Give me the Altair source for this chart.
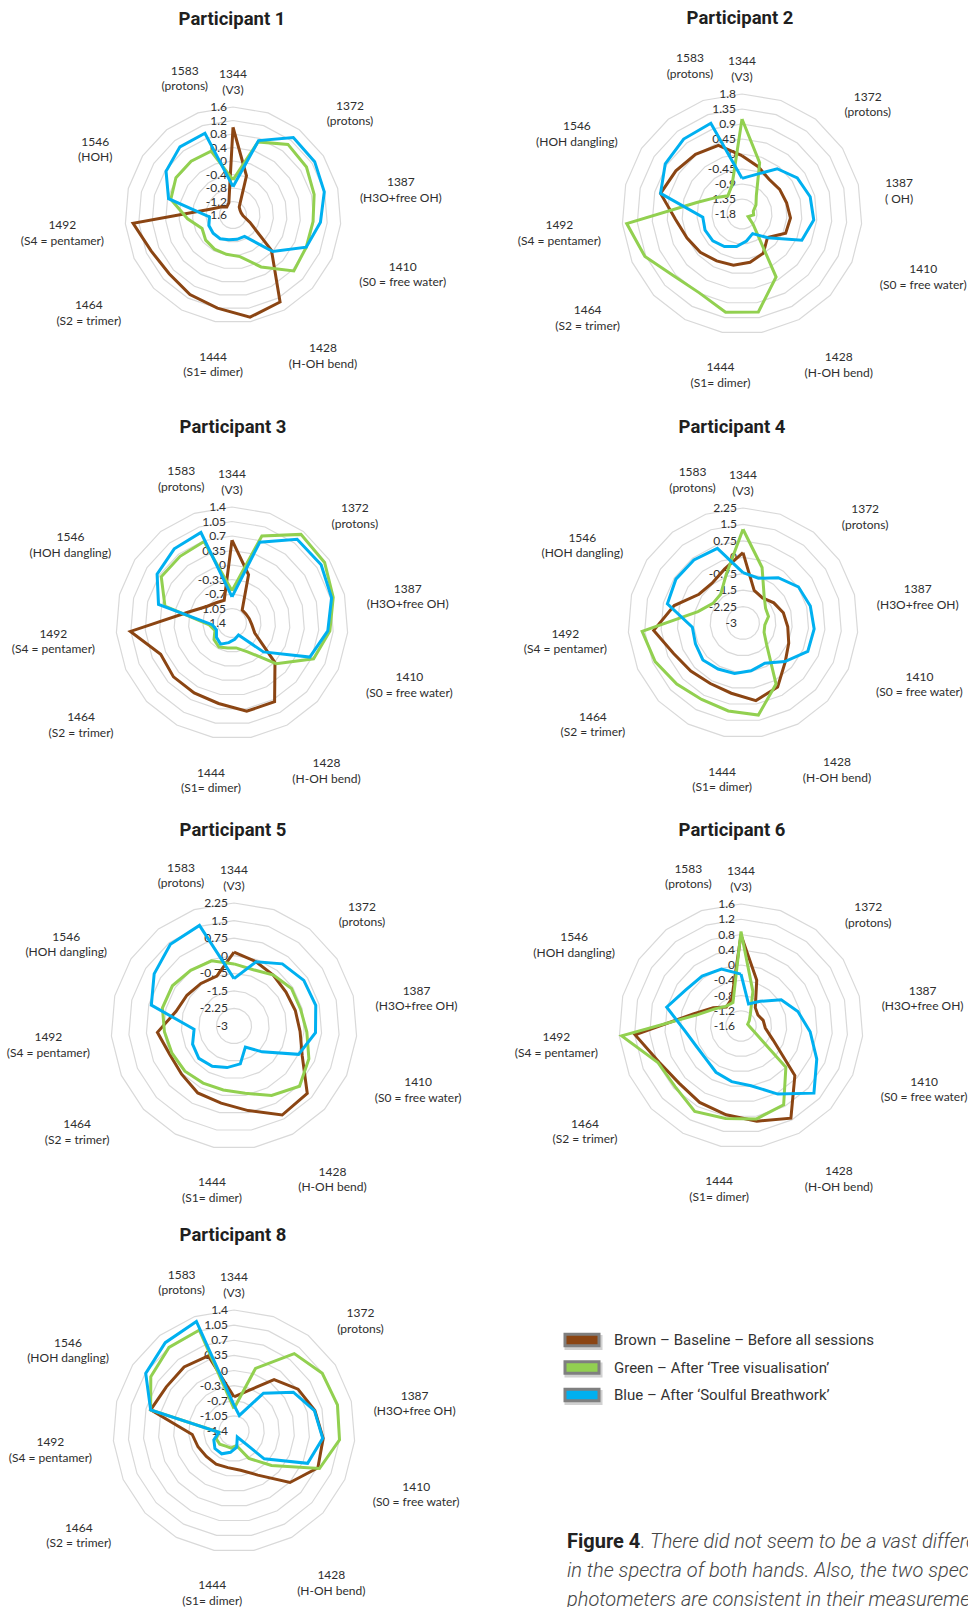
import altair as alt
import pandas as pd

# ---------------------------------------------------------------------------
# Aquagram-style radar charts: NIR water spectral pattern per participant
# ---------------------------------------------------------------------------
N_SPOKES = 19

PARTICIPANTS = ["Participant 1", "Participant 2", "Participant 3", "Participant 4",
                "Participant 5", "Participant 6", "Participant 8"]

SERIES = ["Brown \u2013 Baseline \u2013 Before all sessions",
          "Green \u2013 After \u2018Tree visualisation\u2019",
          "Blue \u2013 After \u2018Soulful Breathwork\u2019"]
SERIES_COLORS = ["#8B4513", "#92D050", "#00B0F0"]

# radial axis labels, centre -> outer ring
P1_TICKS = ["-1.6", "-1.2", "-0.8", "-0.4", "0", "0.4", "0.8", "1.2", "1.6"]
P2_TICKS = ["-1.8", "-1.35", "-0.9", "-0.45", "0", "0.45", "0.9", "1.35", "1.8"]
P3_TICKS = ["-1.4", "-1.05", "-0.7", "-0.35", "0", "0.35", "0.7", "1.05", "1.4"]
P4_TICKS = ["-3", "-2.25", "-1.5", "-0.75", "0", "0.75", "1.5", "2.25"]
P5_TICKS = ["-3", "-2.25", "-1.5", "-0.75", "0", "0.75", "1.5", "2.25"]
P6_TICKS = ["-1.6", "-1.2", "-0.8", "-0.4", "0", "0.4", "0.8", "1.2", "1.6"]
P8_TICKS = ["-1.4", "-1.05", "-0.7", "-0.35", "0", "0.35", "0.7", "1.05", "1.4"]

# band labels around each radar
WAVELENGTHS = ["1344", "1583", "1372", "1387", "1410", "1428", "1444", "1464", "1492", "1546"]
BAND_NAMES = ["(V3)", "(protons)", "(protons)", "(H3O+free OH)", "(S0 = free water)",
              "(H-OH bend)", "(S1= dimer)", "(S2 = trimer)", "(S4 = pentamer)", "(HOH dangling)"]
P1_BAND_NAMES = ["(V3)", "(protons)", "(protons)", "(H3O+free OH)", "(S0 = free water)",
                 "(H-OH bend)", "(S1= dimer)", "(S2 = trimer)", "(S4 = pentamer)", "(HOH)"]
P2_BAND_NAMES = ["(V3)", "(protons)", "(protons)", "( OH)", "(S0 = free water)",
                 "(H-OH bend)", "(S1= dimer)", "(S2 = trimer)", "(S4 = pentamer)", "(HOH dangling)"]

# spoke values, spoke 0 at the top, clockwise
P1_BROWN = [1.0, -0.37, -1.3, -1.35, -1.35, -1.3, -1.05, -0.05, 1.33, 1.47,
            1.2, 1.08, 0.97, 1.05, 1.37, -0.9, -1.17, -1.3, -1.22]
P1_GREEN = [-0.56, 0.69, 1.05, 1.0, 0.88, 0.78, 0.77, 0.85, 0.15, -0.35,
            -0.42, -0.45, -0.5, -0.6, -0.25, 0.3, 0.42, 0.42, 0.4]
P1_BLUE = [-0.76, 0.73, 1.31, 1.29, 1.19, 1.0, 0.77, 0.0, -0.88, -0.87,
           -0.86, -0.8, -0.8, -0.82, -0.9, 0.37, 0.77, 0.96, 0.96]

P2_BROWN = [-0.05, -0.3, -0.48, -0.45, -0.42, -0.34, -0.37, -0.76, -0.46, -0.33,
            -0.24, -0.2, -0.1, 0.0, 0.2, 0.72, 0.57, 0.47, 0.38]
P2_GREEN = [1.05, -0.17, -1.1, -1.3, -1.45, -1.45, -1.6, -1.35, 0.35, 1.18,
            1.19, 0.89, 0.96, 1.38, 1.67, -0.4, -0.89, -1.11, -0.88]
P2_BLUE = [-0.73, -0.55, -0.08, 0.18, 0.31, 0.36, 0.16, -0.75, -1.13, -0.98,
           -0.81, -0.69, -0.61, -0.59, -0.62, 0.72, 0.95, 1.05, 1.08]

P3_BROWN = [0.6, -0.17, -1.0, -1.0, -0.97, -0.92, -0.8, 0.01, 0.76, 0.76,
            0.57, 0.52, 0.52, 0.48, 1.06, -0.32, -0.67, -0.78, -0.82]
P3_GREEN = [-0.62, 0.82, 1.31, 1.27, 1.12, 0.97, 0.75, 0.05, -0.61, -0.79,
            -0.79, -0.74, -0.81, -0.95, -0.85, 0.27, 0.64, 0.64, 0.68]
P3_BLUE = [-0.77, 0.66, 1.16, 1.17, 1.08, 0.92, 0.65, -0.37, -1.07, -1.0,
           -0.92, -0.82, -0.89, -0.99, -0.92, 0.43, 0.76, 0.87, 0.91]

P4_BROWN = [0.21, -1.43, -1.55, -1.32, -1.1, -0.95, -0.72, -0.38, 0.32, 0.59,
            0.25, 0.14, 0.24, 0.46, 1.09, 0.24, -0.6, -0.7, -0.4]
P4_GREEN = [1.28, -0.32, -1.43, -1.77, -1.8, -2.0, -1.95, -1.53, 0.17, 1.26,
            1.07, 0.97, 1.11, 1.38, 1.62, -0.88, -1.36, -1.34, -0.65]
P4_BLUE = [-0.7, -0.84, -0.38, 0.02, 0.17, 0.26, 0.23, -0.4, -0.91, -0.79,
           -0.66, -0.61, -0.51, -0.63, -0.68, 0.56, 0.66, 0.65, 0.6]

P5_BROWN = [0.15, -0.1, -0.26, -0.35, -0.3, -0.17, 0.18, 1.25, 1.32, 0.66,
            0.34, 0.25, 0.04, 0.0, 0.28, -0.45, -0.6, -0.7, -0.75]
P5_GREEN = [-0.35, -0.46, -0.25, -0.07, -0.07, 0.12, 0.49, 0.8, 0.37, -0.09,
            -0.23, -0.23, -0.15, -0.11, -0.02, 0.15, 0.14, 0.01, -0.06]
P5_BLUE = [-0.98, -0.1, 0.36, 0.56, 0.6, 0.49, 0.01, -1.37, -1.98, -1.36,
           -1.2, -1.05, -0.96, -1.07, -1.29, 0.64, 1.07, 1.42, 1.54]

P6_BROWN = [0.79, -0.33, -0.99, -1.07, -1.0, -0.96, -0.68, 0.32, 1.15, 0.93,
            0.76, 0.68, 0.61, 0.75, 1.19, -0.31, -0.73, -0.97, -0.85]
P6_GREEN = [0.88, -0.64, -1.2, -1.34, -1.42, -1.37, -1.22, 0.0, 0.75, 0.87,
            0.86, 0.95, 0.75, 0.78, 1.54, -0.41, -0.78, -0.95, -0.95]
P6_BLUE = [-0.24, -0.99, -0.78, -0.34, -0.06, 0.22, 0.57, 1.0, 0.43, -0.01,
           -0.12, -0.22, -0.34, -0.31, -0.12, 0.41, 0.13, 0.06, -0.02]

P8_BROWN = [-0.61, -0.42, 0.11, 0.37, 0.53, 0.67, 0.72, 0.36, -0.24, -0.48,
            -0.54, -0.53, -0.53, -0.49, -0.43, 0.59, 0.47, 0.48, 0.44]
P8_GREEN = [-0.88, 0.13, 0.87, 1.04, 1.07, 1.05, 0.76, -0.22, -0.68, -1.06,
            -1.0, -1.0, -0.95, -0.95, -1.05, 0.59, 0.9, 1.05, 1.07]
P8_BLUE = [-0.8, -1.02, -0.29, 0.24, 0.52, 0.66, 0.46, -0.45, -1.24, -1.02,
           -0.9, -0.8, -0.8, -0.89, -1.05, 0.59, 1.04, 1.19, 1.28]

# ---------------------------------------------------------------------------
# page layout
# ---------------------------------------------------------------------------
W, H = 968, 1607
PANEL_CX = [233, 742, 232, 743, 234, 741, 234]
PANEL_CY = [215, 214, 623, 623, 1026, 1026, 1431]
PANEL_R = [108, 120, 116, 115, 123, 122, 121]
TITLE_X = [232, 740, 233, 732, 233, 732, 233]
TITLE_DY = 196
TICK_DX = 6

# band label direction (deg, clockwise from top) and gap beyond the outer ring (px)
LABEL_ANGLE = [0, -18.5, 47, 79, 107, 146, 188, 238, 266.5, 298]
LABEL_GAP = [33, 44, 52, 63, 69.5, 53, 35, 62, 63, 67]

LEGEND_X, LEGEND_Y, LEGEND_STEP, LEGEND_TEXT_X = 582, 1340, 27.5, 614

TICKS = [P1_TICKS, P2_TICKS, P3_TICKS, P4_TICKS, P5_TICKS, P6_TICKS, P8_TICKS]
VALUES = [[P1_BROWN, P1_GREEN, P1_BLUE], [P2_BROWN, P2_GREEN, P2_BLUE],
          [P3_BROWN, P3_GREEN, P3_BLUE], [P4_BROWN, P4_GREEN, P4_BLUE],
          [P5_BROWN, P5_GREEN, P5_BLUE], [P6_BROWN, P6_GREEN, P6_BLUE],
          [P8_BROWN, P8_GREEN, P8_BLUE]]
NAMES = [P1_BAND_NAMES, P2_BAND_NAMES, BAND_NAMES, BAND_NAMES, BAND_NAMES, BAND_NAMES, BAND_NAMES]


def panel_info(p):
    t = TICKS[p]
    return {"panel": p, "cx": PANEL_CX[p], "cy": PANEL_CY[p], "R": PANEL_R[p],
            "vmin": float(t[0]), "vmax": float(t[-1]), "nrings": len(t) - 1}


series_rows, ring_rows, tick_rows, label_rows, title_rows = [], [], [], [], []
for p in range(len(PARTICIPANTS)):
    info = panel_info(p)
    for s, name in enumerate(SERIES):
        vals = VALUES[p][s]
        for k in range(N_SPOKES + 1):
            series_rows.append(dict(info, series=name, k=k, value=vals[k % N_SPOKES]))
    for j in range(1, info["nrings"] + 1):
        for k in range(N_SPOKES + 1):
            ring_rows.append(dict(info, ring=j, ring_id=f"{p}-{j}", k=k))
    for j, txt in enumerate(TICKS[p]):
        tick_rows.append(dict(info, ring=j, label=txt))
    for i, wl in enumerate(WAVELENGTHS):
        gap = LABEL_GAP[i]
        name = NAMES[p][i]
        if name == "( OH)":
            gap = 40
        elif name == "(HOH)":
            gap = 48
        label_rows.append(dict(info, label=wl + "\n" + name, ang_deg=LABEL_ANGLE[i], gap=gap))
    title_rows.append(dict(info, label=PARTICIPANTS[p], tx=TITLE_X[p]))

series_df = pd.DataFrame(series_rows)
ring_df = pd.DataFrame(ring_rows)
tick_df = pd.DataFrame(tick_rows)
label_df = pd.DataFrame(label_rows)
title_df = pd.DataFrame(title_rows)
legend_df = pd.DataFrame({"series": SERIES, "row": list(range(len(SERIES)))})

X = alt.X("px:Q", scale=alt.Scale(domain=[0, W], nice=False, zero=False), axis=None)
Y = alt.Y("py:Q", scale=alt.Scale(domain=[0, H], reverse=True, nice=False, zero=False), axis=None)
COLOR = alt.Color("series:N", scale=alt.Scale(domain=SERIES, range=SERIES_COLORS), legend=None)

ANG = f"datum.k * 2 * PI / {N_SPOKES}"

rings = alt.Chart(ring_df).transform_calculate(
    ang=ANG,
    px="datum.cx + datum.R * datum.ring / datum.nrings * sin(datum.ang)",
    py="datum.cy - datum.R * datum.ring / datum.nrings * cos(datum.ang)",
).mark_line(stroke="#D9D9D9", strokeWidth=1.2).encode(
    x=X, y=Y, detail="ring_id:N", order="k:Q")

ticks = alt.Chart(tick_df).transform_calculate(
    px=f"datum.cx - {TICK_DX}",
    py="datum.cy - datum.R * datum.ring / datum.nrings",
).mark_text(align="right", baseline="middle", font="Lato", fontSize=12, color="#2E2E2E").encode(
    x=X, y=Y, text="label:N")

series_layers = []
for name in SERIES:
    series_layers.append(
        alt.Chart(series_df[series_df["series"] == name]).transform_calculate(
            ang=ANG,
            frac="(datum.value - datum.vmin) / (datum.vmax - datum.vmin)",
            px="datum.cx + datum.R * datum.frac * sin(datum.ang)",
            py="datum.cy - datum.R * datum.frac * cos(datum.ang)",
        ).mark_line(strokeWidth=3, strokeJoin="miter").encode(
            x=X, y=Y, color=COLOR, detail="panel:N", order="k:Q")
    )

labels = alt.Chart(label_df).transform_calculate(
    rr="datum.R + datum.gap",
    px="datum.cx + datum.rr * sin(datum.ang_deg * PI / 180)",
    py="datum.cy - datum.rr * cos(datum.ang_deg * PI / 180)",
).mark_text(align="center", baseline="middle", lineBreak="\n", lineHeight=15.5,
            font="Lato", fontSize=12, color="#2E2E2E").encode(
    x=X, y=Y, text="label:N")

titles = alt.Chart(title_df).transform_calculate(
    px="datum.tx",
    py=f"datum.cy - {TITLE_DY}",
).mark_text(align="center", baseline="middle", font="Roboto", fontWeight="bold",
            fontSize=18.5, color="#1F1F1F").encode(x=X, y=Y, text="label:N")

# colour key: framed swatches with a soft shadow, then the series names
SWATCH = "M-1,-0.34H1V0.34H-1Z"
key_shadow = alt.Chart(legend_df).transform_calculate(
    px=f"{LEGEND_X} + 1.5", py=f"{LEGEND_Y} + 2.5 + datum.row * {LEGEND_STEP}"
).mark_point(shape=SWATCH, size=1225, filled=True, color="#9A9A9A", opacity=0.45,
             stroke="#9A9A9A", strokeWidth=3).encode(x=X, y=Y)
key_swatch = alt.Chart(legend_df).transform_calculate(
    px=f"{LEGEND_X}", py=f"{LEGEND_Y} + datum.row * {LEGEND_STEP}"
).mark_point(shape=SWATCH, size=1156, filled=True, opacity=1,
             stroke="#7F7F7F", strokeWidth=3).encode(
    x=X, y=Y, fill=alt.Fill("series:N", scale=alt.Scale(domain=SERIES, range=SERIES_COLORS), legend=None))
key_text = alt.Chart(legend_df).transform_calculate(
    px=f"{LEGEND_TEXT_X}", py=f"{LEGEND_Y} + datum.row * {LEGEND_STEP}"
).mark_text(align="left", baseline="middle", font="Roboto", fontSize=15, color="#333333").encode(
    x=X, y=Y, text="series:N")

# figure caption (runs past the right page edge)
CAPTION_LINES = ["in the spectra of both hands. Also, the two spectro-",
                 "photometers are consistent in their measurements."]
caption_bold = alt.Chart(pd.DataFrame({"px": [567], "py": [1542], "t": ["Figure 4"]})).mark_text(
    align="left", baseline="middle", font="Roboto", fontWeight="bold", fontSize=20, color="#222222"
).encode(x=X, y=Y, text="t:N")
caption_rest = alt.Chart(pd.DataFrame({
    "px": [641, 567, 567], "py": [1542, 1571, 1600],
    "t": [". There did not seem to be a vast difference"] + CAPTION_LINES})).mark_text(
    align="left", baseline="middle", font="Roboto", fontStyle="italic", fontWeight=300,
    fontSize=20, color="#444444"
).encode(x=X, y=Y, text="t:N")

chart = alt.layer(
    rings, ticks, labels, titles, *series_layers,
    key_shadow, key_swatch, key_text, caption_bold, caption_rest
).properties(
    width=W, height=H, autosize="none", padding=0, background="white"
).configure_view(stroke=None)

chart.save("out.html", embed_options={"renderer": "svg", "actions": False})
